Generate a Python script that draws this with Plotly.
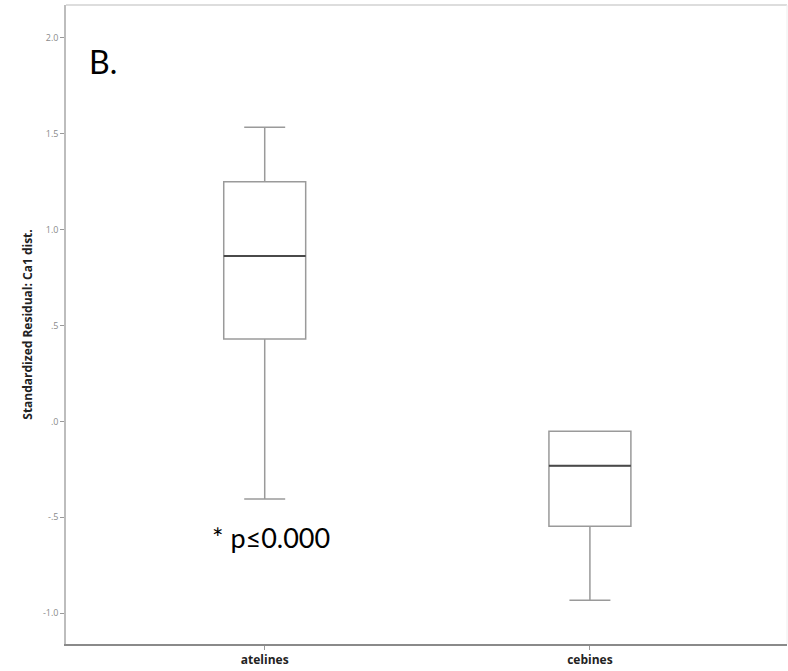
import plotly.graph_objects as go

# Group labels and five-number summaries (standardized residuals, Ca1 dist.)
groups = ["atelines", "cebines"]
lower_whisker = [-0.405, -0.933]
q1 = [0.430, -0.547]
median = [0.862, -0.231]
q3 = [1.249, -0.052]
upper_whisker = [1.534, -0.052]

y_tick_vals = [-1.0, -0.5, 0.0, 0.5, 1.0, 1.5, 2.0]
y_tick_text = ["-1.0", "-.5", ".0", ".5", "1.0", "1.5", "2.0"]

box_width = 0.252
positions = list(range(len(groups)))

fig = go.Figure()

for i, name in enumerate(groups):
    fig.add_trace(go.Box(
        x=[positions[i]],
        q1=[q1[i]], median=[median[i]], q3=[q3[i]],
        lowerfence=[lower_whisker[i]], upperfence=[upper_whisker[i]],
        width=box_width,
        whiskerwidth=0.5,
        fillcolor="rgba(255,255,255,0)",
        line=dict(color="#9a9a9a", width=1.5),
        boxpoints=False,
        hoverinfo="skip",
        showlegend=False,
        name=name,
    ))
    # darker median bar drawn over the box
    fig.add_trace(go.Scatter(
        x=[positions[i] - box_width / 2, positions[i] + box_width / 2],
        y=[median[i], median[i]],
        mode="lines",
        line=dict(color="#4a4a4a", width=2),
        hoverinfo="skip",
        showlegend=False,
    ))

fig.update_layout(
    width=788, height=671,
    margin=dict(l=66, r=1, t=5, b=27),
    paper_bgcolor="white",
    plot_bgcolor="white",
    font=dict(family="Open Sans", color="#333333"),
    xaxis=dict(
        range=[-0.611, 1.606],
        tickvals=positions,
        ticktext=groups,
        tickfont=dict(family="Open Sans", size=12, color="#222222", weight="bold"),
        ticks="outside", ticklen=4, tickcolor="#999999",
        showline=True, linecolor="#8a8a8a", linewidth=1.5,
        showgrid=False, zeroline=False,
    ),
    yaxis=dict(
        range=[-1.161, 2.171],
        tickvals=y_tick_vals,
        ticktext=y_tick_text,
        tickfont=dict(family="Open Sans", size=9, color="#8a8a8a"),
        ticks="outside", ticklen=4, tickcolor="#999999",
        showline=True, linecolor="#bdbdbd", linewidth=1.5,
        showgrid=False, zeroline=False,
        title=dict(
            text="Standardized Residual: Ca1 dist.",
            font=dict(family="Open Sans", size=12, color="#222222", weight="bold"),
            standoff=8,
        ),
    ),
    shapes=[
        dict(type="line", xref="paper", yref="paper", x0=0, x1=1, y0=1, y1=1,
             line=dict(color="#dddddd", width=2)),
        dict(type="line", xref="paper", yref="paper", x0=1, x1=1, y0=0, y1=1,
             line=dict(color="#eeeeee", width=1)),
    ],
    annotations=[
        dict(text="B.", xref="paper", yref="paper", x=0.029, y=0.945,
             xanchor="left", yanchor="top", showarrow=False,
             font=dict(family="Lato", size=32, color="black")),
        dict(text="* p≤0.000", x=-0.168, y=-0.607, xref="x", yref="y",
             xanchor="left", yanchor="middle", showarrow=False,
             font=dict(family="Lato", size=27, color="black")),
    ],
)

fig.write_html("out.html")
